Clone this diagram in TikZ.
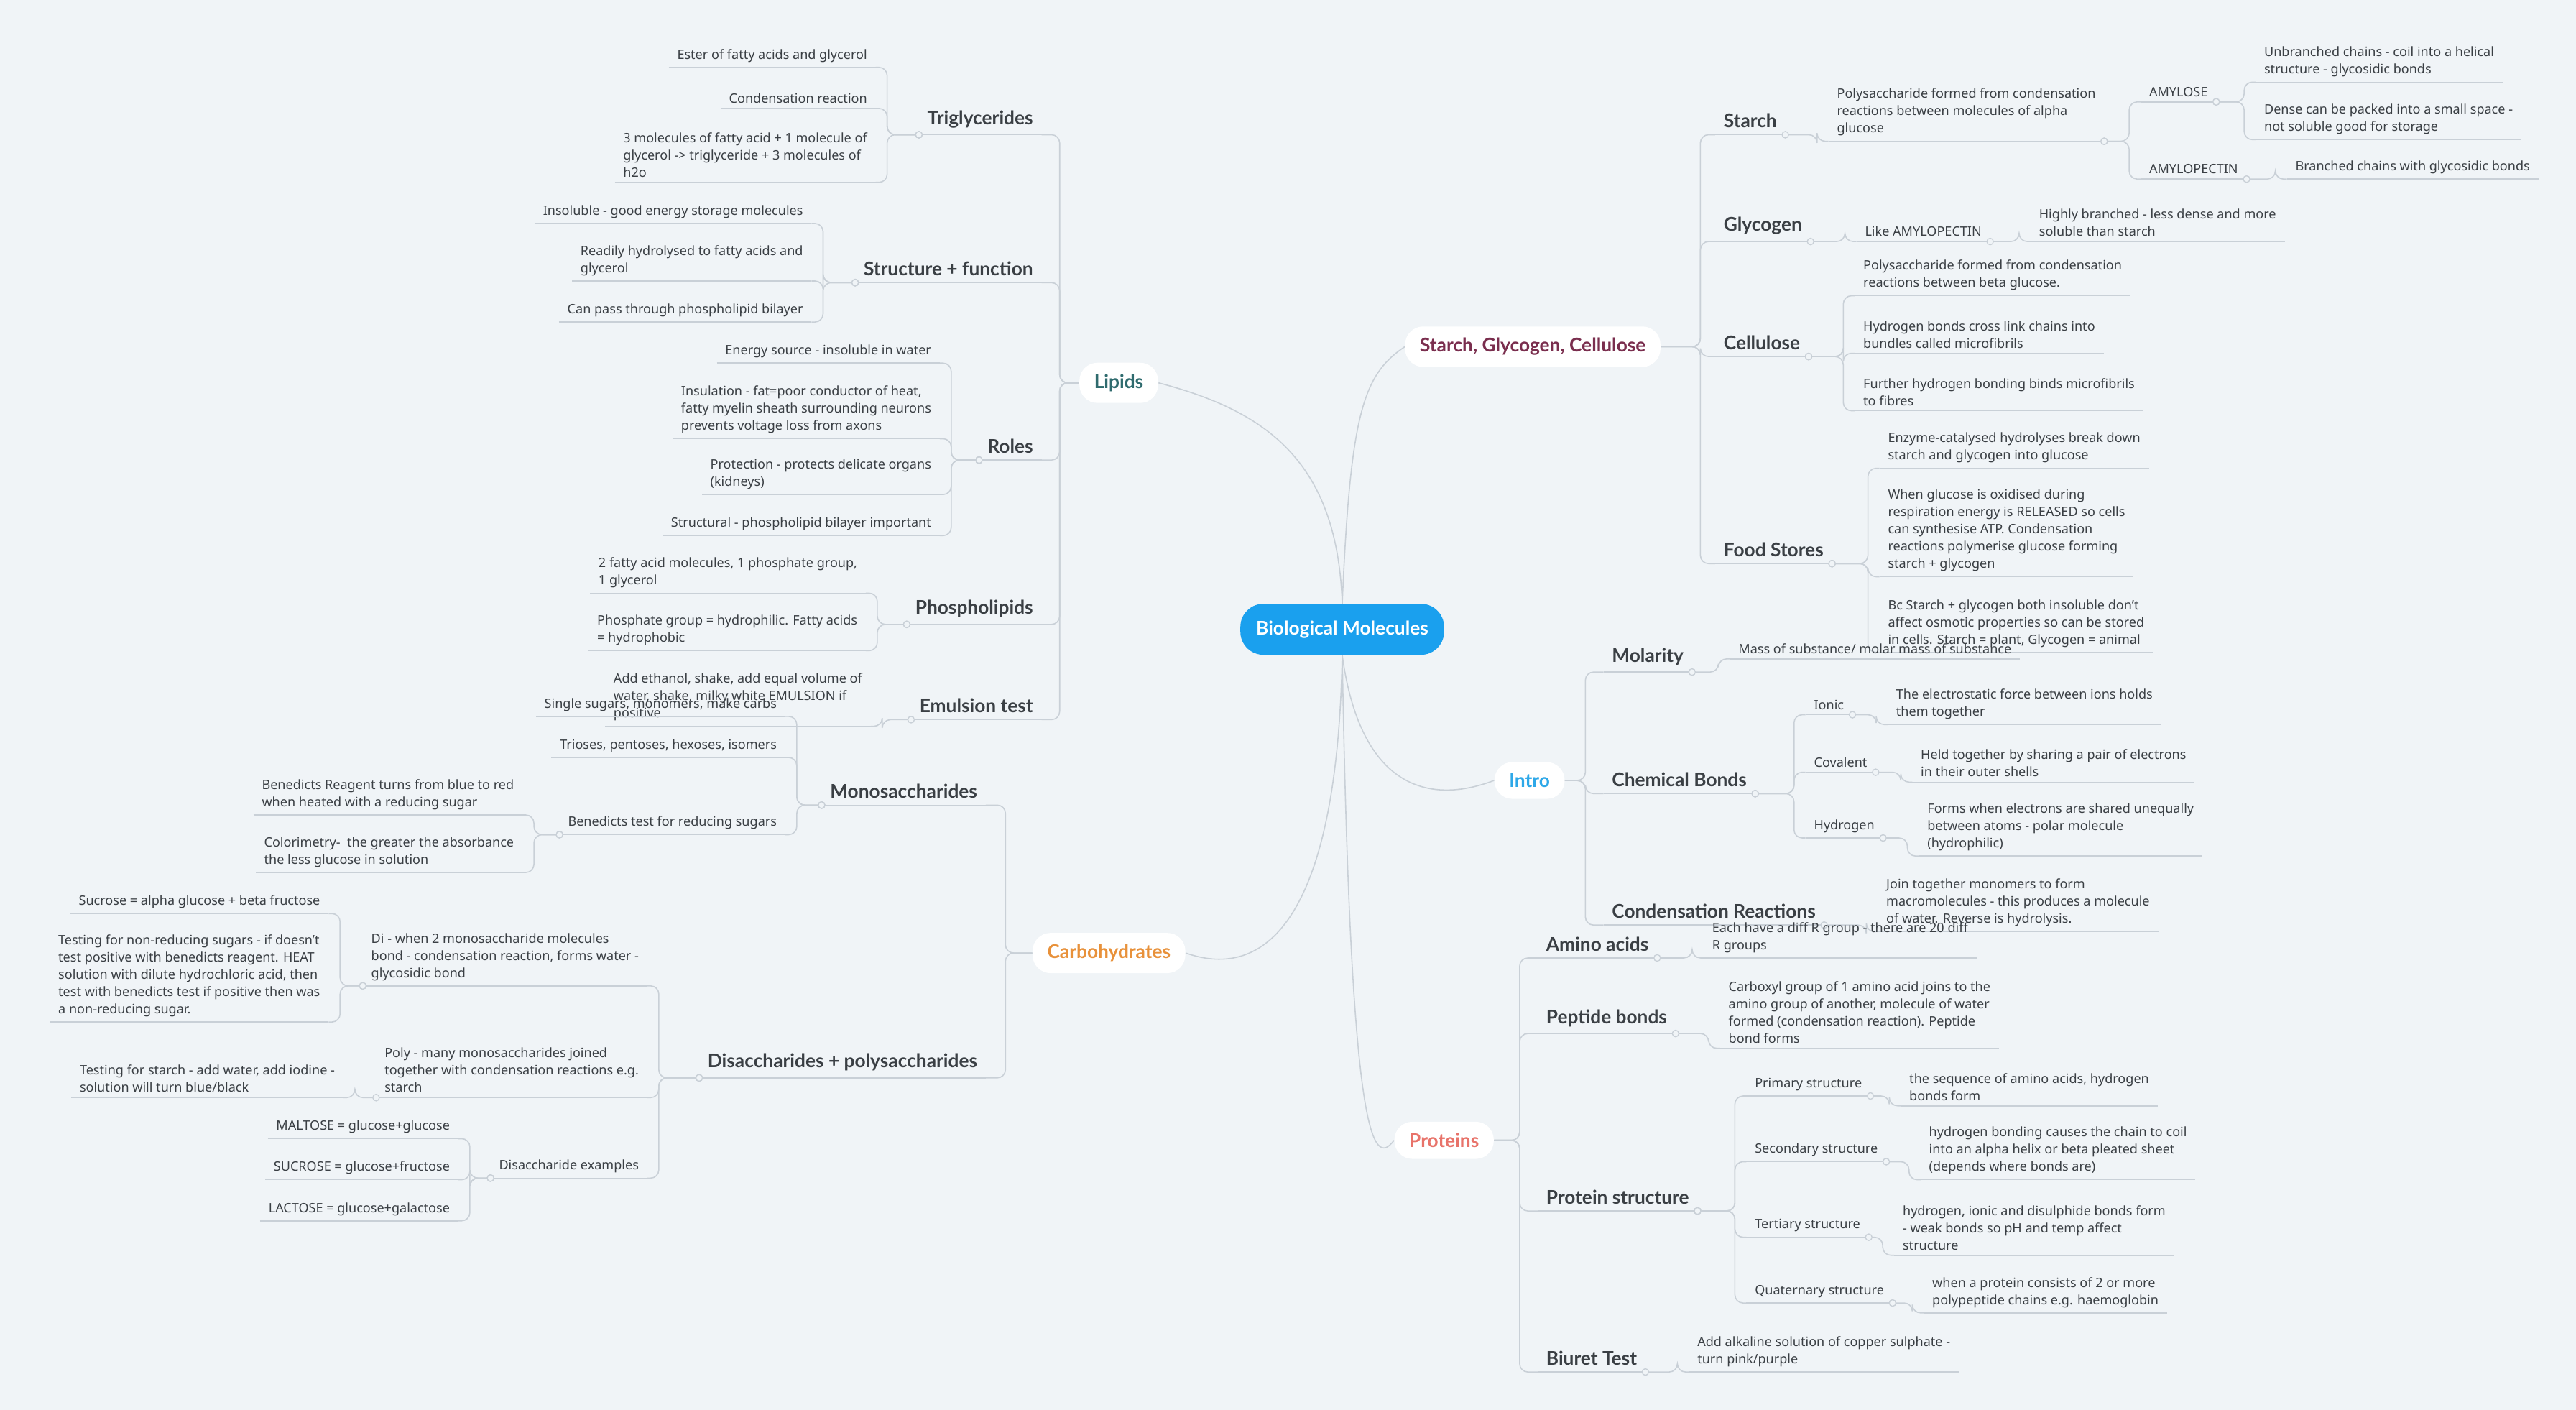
\documentclass[tikz,border=0pt]{standalone}
\usepackage{fontspec}
\setmainfont{Noto Sans}
\newfontfamily\bfam{Lato}
\usetikzlibrary{calc}
\definecolor{bg}{HTML}{F0F4F7}
\definecolor{lc}{HTML}{C9D0D7}
\definecolor{tx}{HTML}{3A3F44}
\definecolor{cblue}{HTML}{1AA0EE}
\definecolor{clip}{HTML}{2F6B6E}
\definecolor{ccarb}{HTML}{E8913A}
\definecolor{csg}{HTML}{7A2E4E}
\definecolor{cintro}{HTML}{2EA8E8}
\definecolor{cprot}{HTML}{E8736A}
\tikzset{
 ln/.style={draw=lc,line width=0.7pt,rounded corners=5pt},
 leaf/.style={font=\fontsize{7.9}{10.5}\selectfont,text=tx,align=left,inner xsep=5pt,inner ysep=3pt},
 sub/.style={font=\bfam\bfseries\fontsize{11.5}{13}\selectfont,text=tx,align=left,inner xsep=5pt,inner ysep=4pt},
 mainn/.style={font=\bfam\bfseries\fontsize{11.5}{13}\selectfont,fill=white,rounded corners=11pt,inner xsep=9pt,inner ysep=7pt},
 jc/.style={circle,draw=lc,fill=bg,inner sep=0pt,minimum size=4pt,line width=0.6pt}
}
\newcommand\LL[4]{\node[leaf,anchor=south east] (#1) at (#2,#3) {#4};\draw[ln] (#1.south west)--(#1.south east);}
\newcommand\RL[4]{\node[leaf,anchor=south west] (#1) at (#2,#3) {#4};\draw[ln] (#1.south west)--(#1.south east);}
\newcommand\LS[4]{\node[sub,anchor=south east] (#1) at (#2,#3) {#4};\draw[ln] (#1.south west)--(#1.south east);}
\newcommand\RS[4]{\node[sub,anchor=south west] (#1) at (#2,#3) {#4};\draw[ln] (#1.south west)--(#1.south east);}
\newcommand\clm[3]{\draw[ln] let \p1=(#1) in (\p1) -- (#2,\y1) |- (#3.south east);}
\newcommand\crm[3]{\draw[ln] let \p1=(#1) in (\p1) -- (#2,\y1) |- (#3.south west);}
\newcommand\cl[2]{\draw[ln] let \p1=(#1), \p2=(#2.south east) in (\p1) -- (\x2+7pt,\y1) |- (\p2);\node[jc] at (#1) {};}
\newcommand\cra[2]{\draw[ln] let \p1=(#1), \p2=(#2.south west) in (\p1) -- (\x2-7pt,\y1) |- (\p2);\node[jc] at (#1) {};}
\begin{document}
\begin{tikzpicture}[x=1pt,y=-1pt]
\fill[bg] (0,0) rectangle (1568,858);
\useasboundingbox (0,0) rectangle (1568,858);
% center and main
\node[font=\bfam\bfseries\fontsize{11.5}{13}\selectfont,fill=cblue,text=white,rounded corners=14pt,minimum width=124pt,minimum height=31pt] (cen) at (817,383) {Biological Molecules};
\node[mainn,text=clip] (lip) at (681,233) {Lipids};
\node[mainn,text=ccarb] (carb) at (675,580) {Carbohydrates};
\node[mainn,text=csg] (sg) at (933,211) {Starch, Glycogen, Cellulose};
\node[mainn,text=cintro] (intro) at (931,475) {Intro};
\node[mainn,text=cprot] (prot) at (879,694) {Proteins};
\draw[ln] (cen.north) .. controls (814,280) and (770,250) .. (lip.east);
\draw[ln] (cen.south) .. controls (814,560) and (770,597) .. (carb.east);
\draw[ln] (cen.north) .. controls (822,250) and (830,228) .. (sg.west);
\draw[ln] (cen.south) .. controls (828,480) and (870,490) .. (intro.west);
\draw[ln] (cen.south) .. controls (822,690) and (835,712) .. (prot.west);
% ---------------- Lipids
\LS{L1}{634}{82}{Triglycerides}
\LS{L2}{634}{172}{Structure + function}
\LS{L3}{634}{280}{Roles}
\LS{L4}{634}{380}{Phospholipids}
\LS{L5}{634}{438}{Emulsion test}
\foreach \s in {L1,L2,L3,L4,L5}{\clm{lip.west}{645}{\s}}
\LL{t1}{533}{41}{Ester of fatty acids and glycerol}
\LL{t2}{533}{66}{Condensation reaction}
\LL{t3}{533}{111}{3 molecules of fatty acid + 1 molecule of\\glycerol -> triglyceride + 3 molecules of\\h2o}
\foreach \s in {t1,t2,t3}{\cl{L1.south west}{\s}}
\LL{s1}{494}{136}{Insoluble - good energy storage molecules}
\LL{s2}{494}{171}{Readily hydrolysed to fatty acids and\\glycerol}
\LL{s3}{494}{196}{Can pass through phospholipid bilayer}
\foreach \s in {s1,s2,s3}{\cl{L2.south west}{\s}}
\LL{r1}{572}{221}{Energy source - insoluble in water}
\LL{r2}{572}{267}{Insulation - fat=poor conductor of heat,\\fatty myelin sheath surrounding neurons\\prevents voltage loss from axons}
\LL{r3}{572}{301}{Protection - protects delicate organs\\(kidneys)}
\LL{r4}{572}{326}{Structural - phospholipid bilayer important}
\foreach \s in {r1,r2,r3,r4}{\cl{L3.south west}{\s}}
\LL{p1}{527}{361}{2 fatty acid molecules, 1 phosphate group,\\1 glycerol}
\LL{p2}{527}{396}{Phosphate group = hydrophilic. Fatty acids\\= hydrophobic}
\foreach \s in {p1,p2}{\cl{L4.south west}{\s}}
\LL{e1}{530}{442}{Add ethanol, shake, add equal volume of\\water, shake, milky white EMULSION if\\positive}
\cl{L5.south west}{e1}
% ---------------- Carbohydrates
\LS{C1}{600}{490}{Monosaccharides}
\LS{C2}{600}{656}{Disaccharides + polysaccharides}
\foreach \s in {C1,C2}{\clm{carb.west}{612}{\s}}
\LL{m1}{478}{436}{Single sugars, monomers, make carbs}
\LL{m2}{478}{461}{Trioses, pentoses, hexoses, isomers}
\LL{m3}{478}{508}{Benedicts test for reducing sugars}
\foreach \s in {m1,m2,m3}{\cl{C1.south west}{\s}}
\LL{b1}{318}{496}{Benedicts Reagent turns from blue to red\\when heated with a reducing sugar}
\LL{b2}{318}{531}{Colorimetry-~ the greater the absorbance\\the less glucose in solution}
\foreach \s in {b1,b2}{\cl{m3.south west}{\s}}
\LL{d1}{394}{600}{Di - when 2 monosaccharide molecules\\bond - condensation reaction, forms water -\\glycosidic bond}
\LL{d2}{394}{668}{Poly - many monosaccharides joined\\together with condensation reactions e.g.\\starch}
\LL{d3}{394}{717}{Disaccharide examples}
\foreach \s in {d1,d2,d3}{\cl{C2.south west}{\s}}
\LL{x1}{200}{556}{Sucrose = alpha glucose + beta fructose}
\LL{x2}{200}{622}{Testing for non-reducing sugars - if doesn't\\test positive with benedicts reagent. HEAT\\solution with dilute hydrochloric acid, then\\test with benedicts test if positive then was\\a non-reducing sugar.}
\foreach \s in {x1,x2}{\cl{d1.south west}{\s}}
\LL{y1}{209}{668}{Testing for starch - add water, add iodine -\\solution will turn blue/black}
\cl{d2.south west}{y1}
\LL{z1}{279}{693}{MALTOSE = glucose+glucose}
\LL{z2}{279}{718}{SUCROSE = glucose+fructose}
\LL{z3}{279}{743}{LACTOSE = glucose+galactose}
\foreach \s in {z1,z2,z3}{\cl{d3.south west}{\s}}
% ---------------- Starch Glycogen Cellulose
\RS{S1}{1044}{82}{Starch}
\RS{S2}{1044}{147}{Glycogen}
\RS{S3}{1044}{217}{Cellulose}
\RS{S4}{1044}{343}{Food Stores}
\foreach \s in {S1,S2,S3,S4}{\crm{sg.east}{1035}{\s}}
\RL{st1}{1113}{86}{Polysaccharide formed from condensation\\reactions between molecules of alpha\\glucose}
\cra{S1.south east}{st1}
\RL{am}{1303}{62}{AMYLOSE}
\RL{ap}{1303}{109}{AMYLOPECTIN}
\foreach \s in {am,ap}{\cra{st1.south east}{\s}}
\RL{u1}{1373}{50}{Unbranched chains - coil into a helical\\structure - glycosidic bonds}
\RL{u2}{1373}{85}{Dense can be packed into a small space -\\not soluble good for storage}
\foreach \s in {u1,u2}{\cra{am.south east}{\s}}
\RL{u3}{1392}{109}{Branched chains with glycosidic bonds}
\cra{ap.south east}{u3}
\RL{g1}{1130}{147}{Like AMYLOPECTIN}
\cra{S2.south east}{g1}
\RL{g2}{1236}{147}{Highly branched - less dense and more\\soluble than starch}
\cra{g1.south east}{g2}
\RL{c1}{1129}{180}{Polysaccharide formed from condensation\\reactions between beta glucose.}
\RL{c2}{1129}{215}{Hydrogen bonds cross link chains into\\bundles called microfibrils}
\RL{c3}{1129}{250}{Further hydrogen bonding binds microfibrils\\to fibres}
\foreach \s in {c1,c2,c3}{\cra{S3.south east}{\s}}
\RL{f1}{1144}{285}{Enzyme-catalysed hydrolyses break down\\starch and glycogen into glucose}
\RL{f2}{1144}{351}{When glucose is oxidised during\\respiration energy is RELEASED so cells\\can synthesise ATP. Condensation\\reactions polymerise glucose forming\\starch + glycogen}
\RL{f3}{1144}{397}{Bc Starch + glycogen both insoluble don't\\affect osmotic properties so can be stored\\in cells. Starch = plant, Glycogen = animal}
\foreach \s in {f1,f2,f3}{\cra{S4.south east}{\s}}
% ---------------- Intro
\RS{I1}{976}{409}{Molarity}
\RS{I2}{976}{483}{Chemical Bonds}
\RS{I3}{976}{563}{Condensation Reactions}
\foreach \s in {I1,I2,I3}{\crm{intro.east}{965}{\s}}
\RL{mo}{1053}{401}{Mass of substance/ molar mass of substance}
\cra{I1.south east}{mo}
\RL{io}{1099}{435}{Ionic}
\RL{cv}{1099}{470}{Covalent}
\RL{hg}{1099}{510}{Hydrogen}
\foreach \s in {io,cv,hg}{\cra{I2.south east}{\s}}
\RL{io2}{1149}{441}{The electrostatic force between ions holds\\them together}
\cra{io.south east}{io2}
\RL{cv2}{1164}{476}{Held together by sharing a pair of electrons\\in their outer shells}
\cra{cv.south east}{cv2}
\RL{hg2}{1168}{521}{Forms when electrons are shared unequally\\between atoms - polar molecule\\(hydrophilic)}
\cra{hg.south east}{hg2}
\RL{cr}{1143}{567}{Join together monomers to form\\macromolecules - this produces a molecule\\of water. Reverse is hydrolysis.}
\cra{I3.south east}{cr}
% ---------------- Proteins
\RS{P1}{936}{583}{Amino acids}
\RS{P2}{936}{629}{Peptide bonds}
\RS{P3}{936}{737}{Protein structure}
\RS{P4}{936}{835}{Biuret Test}
\foreach \s in {P1,P2,P3,P4}{\crm{prot.east}{925}{\s}}
\RL{aa}{1037}{583}{Each have a diff R group - there are 20 diff\\R groups}
\cra{P1.south east}{aa}
\RL{pb}{1047}{638}{Carboxyl group of 1 amino acid joins to the\\amino group of another, molecule of water\\formed (condensation reaction). Peptide\\bond forms}
\cra{P2.south east}{pb}
\RL{q1}{1063}{667}{Primary structure}
\RL{q2}{1063}{707}{Secondary structure}
\RL{q3}{1063}{753}{Tertiary structure}
\RL{q4}{1063}{793}{Quaternary structure}
\foreach \s in {q1,q2,q3,q4}{\cra{P3.south east}{\s}}
\RL{q1b}{1157}{673}{the sequence of amino acids, hydrogen\\bonds form}
\cra{q1.south east}{q1b}
\RL{q2b}{1169}{718}{hydrogen bonding causes the chain to coil\\into an alpha helix or beta pleated sheet\\(depends where bonds are)}
\cra{q2.south east}{q2b}
\RL{q3b}{1153}{764}{hydrogen, ionic and disulphide bonds form\\- weak bonds so pH and temp affect\\structure}
\cra{q3.south east}{q3b}
\RL{q4b}{1171}{799}{when a protein consists of 2 or more\\polypeptide chains e.g. haemoglobin}
\cra{q4.south east}{q4b}
\RL{bt}{1028}{835}{Add alkaline solution of copper sulphate -\\turn pink/purple}
\cra{P4.south east}{bt}
\end{tikzpicture}
\end{document}
